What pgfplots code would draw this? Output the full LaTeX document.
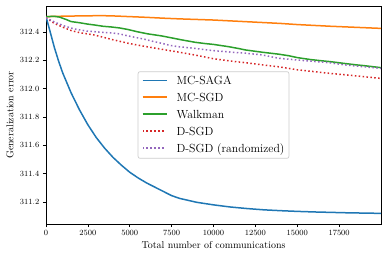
\documentclass[border=0pt]{standalone}
\usepackage{pgfplots}
\pgfplotsset{compat=1.18}
\definecolor{c0}{HTML}{1F77B4}
\definecolor{c1}{HTML}{FF7F0E}
\definecolor{c2}{HTML}{2CA02C}
\definecolor{c3}{HTML}{D62728}
\definecolor{c4}{HTML}{9467BD}
\newcommand{\solidline}[1]{\textcolor{#1}{\rule[3.5bp]{24bp}{1.5bp}}}
\newcommand{\dotsq}{\rule[3.5bp]{1.5bp}{1.5bp}\hspace{2.4bp}}
\newcommand{\dotline}[1]{\textcolor{#1}{\makebox[24bp][l]{\dotsq\dotsq\dotsq\dotsq\dotsq\dotsq}}}
\begin{document}
\begin{tikzpicture}
\useasboundingbox (-46bp,-34bp) rectangle (342bp,224bp);
\begin{axis}[
  at={(0,0)}, anchor=south west,
  scale only axis, width=335bp, height=218bp,
  xmin=0, xmax=20000, ymin=311.045, ymax=312.583,
  xtick={0,2500,5000,7500,10000,12500,15000,17500},
  ytick={311.2,311.4,311.6,311.8,312.0,312.2,312.4},
  scaled x ticks=false, scaled y ticks=false,
  xticklabel style={/pgf/number format/set thousands separator={}},
  yticklabel style={/pgf/number format/.cd, fixed, fixed zerofill, precision=1},
  tick label style={font=\fontsize{7.7}{9}\selectfont},
  tick align=outside, xtick pos=left, ytick pos=left,
  major tick length=3.2bp,
  tick style={black, line width=0.7bp},
  axis line style={black, line width=0.75bp},
  xlabel={Total number of communications},
  ylabel={Generalization error},
  label style={font=\fontsize{10}{12}\selectfont},
  xlabel style={at={(axis description cs:0.5,0)}, anchor=center, yshift=-21bp},
  ylabel style={at={(axis description cs:0,0.5)}, anchor=center, yshift=36bp},
]
\addplot[color=c0, line width=1.5bp, mark=none] coordinates {
(0,312.508) (250,312.40) (500,312.29) (750,312.195) (1000,312.11) (1500,311.97)
(2000,311.85) (2500,311.745) (3000,311.655) (3500,311.58) (4000,311.515)
(4500,311.46) (5000,311.41) (5500,311.37) (6000,311.335) (6500,311.305)
(7000,311.275) (7500,311.245) (8000,311.225) (9000,311.198) (10000,311.18)
(11000,311.165) (12000,311.154) (13000,311.145) (14000,311.139) (15000,311.134)
(16000,311.13) (17000,311.127) (18000,311.124) (19000,311.122) (20000,311.12)};
\addplot[color=c1, line width=1.5bp, mark=none] coordinates {
(0,312.508) (1000,312.511) (2000,312.513) (3300,312.515) (4000,312.513)
(5000,312.508) (6000,312.503) (7000,312.497) (8000,312.492) (9000,312.488)
(10000,312.484) (11000,312.478) (12000,312.472) (13000,312.466) (14000,312.46)
(15000,312.452) (16000,312.446) (17000,312.44) (18000,312.435) (19000,312.43)
(20000,312.425)};
\addplot[color=c2, line width=1.5bp, mark=none] coordinates {
(0,312.508) (500,312.51) (800,312.505) (1200,312.488) (1500,312.473)
(2000,312.465) (2500,312.455) (2900,312.449) (3400,312.44) (3900,312.435)
(4400,312.428) (4900,312.417) (5500,312.400) (6100,312.386) (6900,312.372)
(7500,312.358) (8100,312.344) (8900,312.327) (9500,312.318) (10000,312.312)
(10900,312.296) (11500,312.283) (11900,312.273) (12900,312.257) (13900,312.243)
(14500,312.232) (15000,312.219) (15800,312.205) (16500,312.196) (17000,312.19)
(17800,312.178) (18500,312.168) (19000,312.162) (20000,312.148)};
\addplot[color=c3, line width=1.5bp, mark=none, dash pattern=on 1.5bp off 2.4bp] coordinates {
(0,312.50) (500,312.46) (1075,312.43) (1500,312.41) (2000,312.395)
(2866,312.379) (3500,312.36) (4000,312.345) (4900,312.320) (5900,312.298)
(6900,312.278) (7900,312.258) (8900,312.237) (10000,312.211) (11000,312.195)
(11900,312.183) (12900,312.168) (13900,312.154) (15000,312.133) (16000,312.12)
(17000,312.107) (18000,312.096) (19000,312.084) (20000,312.072)};
\addplot[color=c4, line width=1.5bp, mark=none, dash pattern=on 1.5bp off 2.4bp] coordinates {
(0,312.50) (500,312.47) (1075,312.443) (1500,312.427) (1870,312.417)
(2500,312.405) (2866,312.402) (3400,312.397) (3860,312.394) (4400,312.386)
(4900,312.372) (5400,312.36) (5900,312.348) (6400,312.333) (6900,312.32)
(7400,312.305) (7900,312.296) (8400,312.29) (8900,312.284) (9500,312.275)
(10000,312.268) (11000,312.258) (11900,312.25) (12900,312.238) (13900,312.214)
(15000,312.202) (15800,312.194) (16900,312.183) (17800,312.168) (18900,312.155)
(20000,312.143)};
\node[draw=black!20, line width=0.7bp, rounded corners=2bp, fill=white,
  inner xsep=4.5bp, inner ysep=1bp, anchor=center,
  font=\fontsize{11.8}{17}\selectfont]
  at (axis description cs:0.5,0.5) {%
  \begin{tabular}{@{}l@{\hspace{10bp}}l@{}}
  \solidline{c0} & MC-SAGA\\
  \solidline{c1} & MC-SGD\\
  \solidline{c2} & Walkman\\
  \dotline{c3} & D-SGD\\
  \dotline{c4} & D-SGD (randomized)
  \end{tabular}};
\end{axis}
\end{tikzpicture}
\end{document}
